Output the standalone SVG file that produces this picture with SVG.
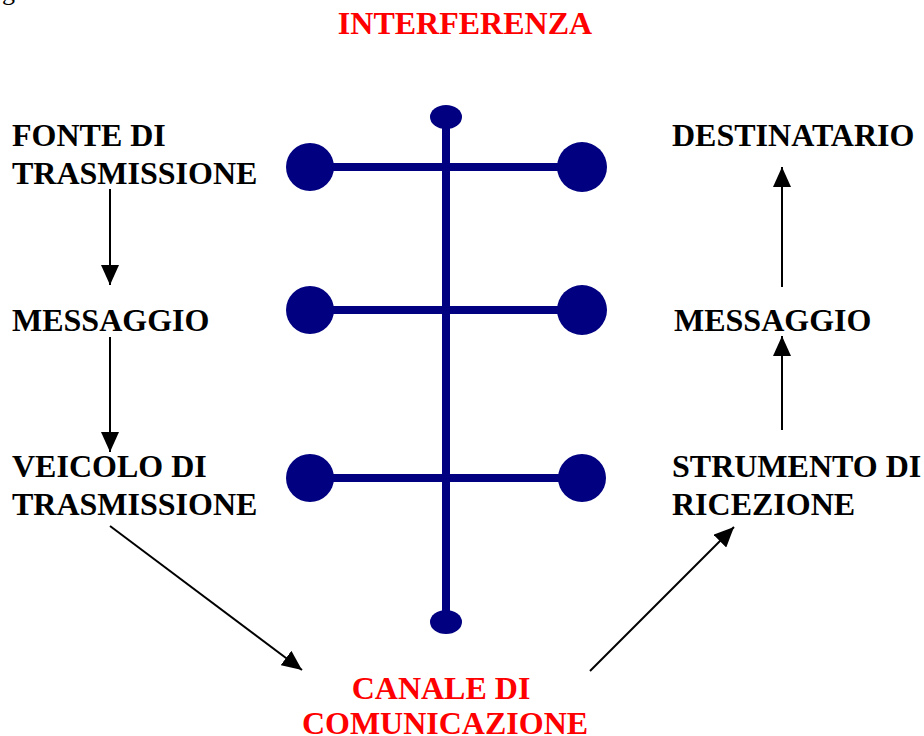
<svg xmlns="http://www.w3.org/2000/svg" width="924" height="736" viewBox="0 0 924 736">
<style>
.t{font-family:"Liberation Serif","Times New Roman",serif;font-weight:bold;font-size:32px;fill:#000}
.r{fill:#FF0000}
.bar{stroke:#000080;stroke-width:8;fill:none}
.dot{fill:#000080}
.conn{stroke:#000;stroke-width:2;fill:none;marker-end:url(#ah)}
</style>
<defs>
<marker id="ah" markerUnits="userSpaceOnUse" markerWidth="20" markerHeight="18" refX="20" refY="9" orient="auto">
<path d="M0,0 L20,9 L0,18 z" fill="#000"/>
</marker>
</defs>
<text x="2" y="0" style="font-family:'Liberation Serif',serif;font-size:26px">g</text>
<g id="interferenza">
<line class="bar" x1="446" y1="117" x2="446" y2="622"/>
<ellipse class="dot" cx="446" cy="117" rx="16" ry="12"/>
<ellipse class="dot" cx="446" cy="622" rx="16" ry="12"/>
<line class="bar" x1="310" y1="167" x2="582" y2="167"/>
<circle class="dot" cx="310" cy="167" r="24"/>
<circle class="dot" cx="582" cy="167" r="25"/>
<line class="bar" x1="310" y1="310" x2="582" y2="310"/>
<circle class="dot" cx="310" cy="310" r="24"/>
<circle class="dot" cx="582" cy="310" r="25"/>
<line class="bar" x1="310" y1="478" x2="582" y2="478"/>
<circle class="dot" cx="310" cy="478" r="24"/>
<circle class="dot" cx="582" cy="478" r="24"/>
<text class="t r" x="465" y="34" text-anchor="middle">INTERFERENZA</text>
</g>
<g id="fonte">
<text class="t" x="12" y="146">FONTE DI</text>
<text class="t" x="12" y="184">TRASMISSIONE</text>
</g>
<g id="messaggio-sx">
<text class="t" x="12" y="331">MESSAGGIO</text>
</g>
<g id="veicolo">
<text class="t" x="12" y="477">VEICOLO DI</text>
<text class="t" x="12" y="515">TRASMISSIONE</text>
</g>
<g id="destinatario">
<text class="t" x="672" y="146">DESTINATARIO</text>
</g>
<g id="messaggio-dx">
<text class="t" x="674" y="331">MESSAGGIO</text>
</g>
<g id="strumento">
<text class="t" x="672" y="477">STRUMENTO DI</text>
<text class="t" x="672" y="515">RICEZIONE</text>
</g>
<g id="canale">
<text class="t r" x="441" y="699" text-anchor="middle">CANALE DI</text>
<text class="t r" x="445" y="734" text-anchor="middle">COMUNICAZIONE</text>
</g>
<g id="connectors">
<line class="conn" x1="110" y1="189" x2="110" y2="285"/>
<line class="conn" x1="110" y1="337" x2="110" y2="452"/>
<line class="conn" x1="110" y1="526" x2="302" y2="670"/>
<line class="conn" x1="590" y1="671" x2="734" y2="527"/>
<line class="conn" x1="782" y1="287" x2="782" y2="167"/>
<line class="conn" x1="782" y1="430" x2="782" y2="336"/>
</g>
</svg>
